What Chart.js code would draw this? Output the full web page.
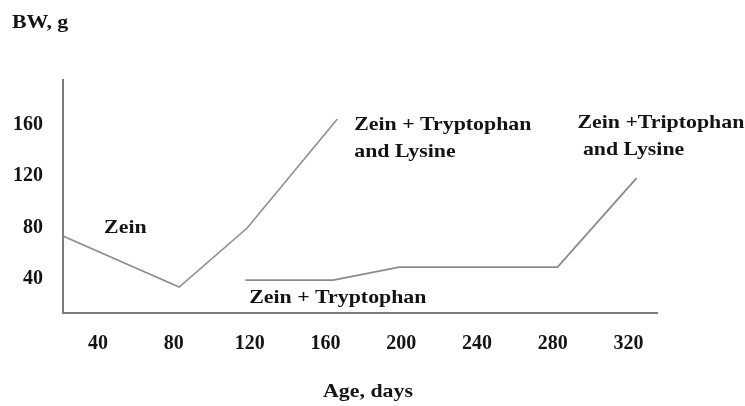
<!DOCTYPE html>
<html><head><meta charset="utf-8">
<script src="https://cdn.jsdelivr.net/npm/chart.js@4.4.0/dist/chart.umd.min.js"></script>
<style>html,body{margin:0;padding:0;background:#fff}</style>
</head><body>
<canvas id="c" width="745" height="406"></canvas>
<script>
// ---- data ----
const xTicks = [40, 80, 120, 160, 200, 240, 280, 320];
const yTicks = [40, 80, 120, 160];
const zeinDays = [21.5, 82.8, 118.7, 166.3];
const zeinBW   = [73.4, 33.8, 79.6, 164.3];
const trpDays  = [117.7, 164.1, 199, 282.5, 324.2];
const trpBW    = [39.2, 39.2, 49.3, 49.3, 118.4];
const yTitle = 'BW, g';
const xTitle = 'Age, days';

const FONT = 'bold 19px "Liberation Serif", "Times New Roman", serif';
const STRETCH = 1.15;

const annotations = [
  {lines: ['Zein'], x: 43.2, y: 79.6},
  {lines: ['Zein + Tryptophan'], x: 119.8, y: 25.2},
  {lines: ['Zein + Tryptophan', 'and Lysine'], x: 175.2, y: 159.6},
  {lines: ['Zein +Triptophan', ' and Lysine'], x: 293, y: 161}
];

const textPlugin = {
  id: 'texts',
  afterDraw(chart) {
    const ctx = chart.ctx, xs = chart.scales.x, ys = chart.scales.y;
    ctx.save();
    ctx.fillStyle = '#141414';
    ctx.font = FONT;
    ctx.textBaseline = 'middle';
    ctx.textAlign = 'left';
    const draw = (t, px, py) => {
      ctx.save(); ctx.translate(px, py); ctx.scale(STRETCH, 1); ctx.fillText(t, 0, 0); ctx.restore();
    };
    annotations.forEach(a => {
      const px = xs.getPixelForValue(a.x), py = ys.getPixelForValue(a.y);
      a.lines.forEach((l, i) => draw(l, px, py + i * 27));
    });
    draw(yTitle, 12, 23);
    ctx.textAlign = 'center';
    draw(xTitle, (xs.left + xs.right) / 2 + 8, 392);
    ctx.restore();
  }
};

const toPts = (xa, ya) => xa.map((v, i) => ({x: v, y: ya[i]}));
const tickFont = {family: '"Liberation Serif", "Times New Roman", serif', size: 20, weight: 'bold'};

new Chart(document.getElementById('c'), {
  type: 'line',
  data: {
    datasets: [
      {data: toPts(zeinDays, zeinBW), borderColor: '#8e8e8e', borderWidth: 1.6, pointRadius: 0, tension: 0},
      {data: toPts(trpDays, trpBW), borderColor: '#8a8a8a', borderWidth: 1.8, pointRadius: 0, tension: 0}
    ]
  },
  options: {
    responsive: false,
    animation: false,
    devicePixelRatio: 1,
    layout: {padding: {left: 0, right: 88, top: 80, bottom: 0}},
    plugins: {legend: {display: false}, tooltip: {enabled: false}},
    scales: {
      x: {
        type: 'linear', min: 21.5, max: 335,
        afterBuildTicks: s => { s.ticks = xTicks.map(v => ({value: v})); },
        afterFit: s => { s.height = 93; },
        grid: {display: false, drawTicks: false},
        border: {display: true, color: '#7a7a7a', width: 2},
        ticks: {font: tickFont, color: '#141414', padding: 19, maxRotation: 0, autoSkip: false}
      },
      y: {
        type: 'linear', min: 13.6, max: 194.6,
        afterBuildTicks: s => { s.ticks = yTicks.map(v => ({value: v})); },
        afterFit: s => { s.width = 63; },
        grid: {display: false, drawTicks: false},
        border: {display: true, color: '#7a7a7a', width: 2},
        ticks: {font: tickFont, color: '#141414', padding: 20, autoSkip: false}
      }
    }
  },
  plugins: [textPlugin]
});
</script>
</body></html>
